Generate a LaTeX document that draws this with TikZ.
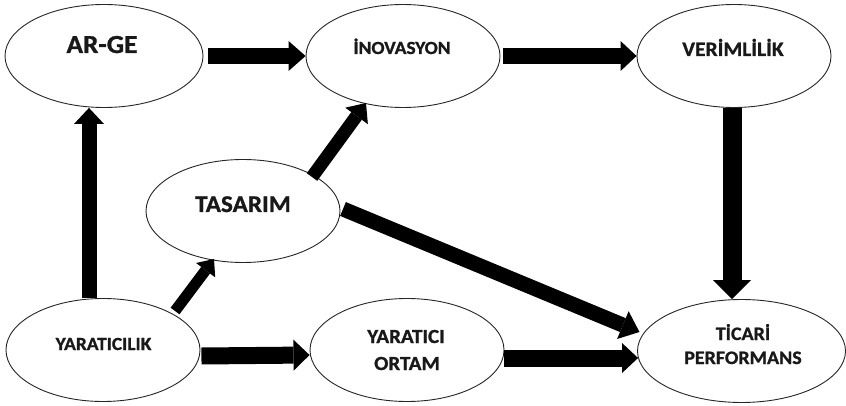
\documentclass[tikz,border=0pt]{standalone}
\usepackage{fontspec}
\setmainfont{Carlito}[FakeStretch=1.05,FakeBold=1]
\usetikzlibrary{shapes.geometric,arrows.meta,calc}
\tikzset{
  oval/.style={ellipse,draw=black!85,line width=0.9pt,inner sep=0pt,minimum width=194pt,minimum height=103pt},
  lbl/.style={anchor=base,inner sep=0pt,font=\bfseries\fontsize{#1}{#1}\selectfont,text=black!90},
  blk/.style n args={3}{line width=#1,-{Triangle[length=#2,width=#3,line width=0pt]}},
}
\begin{document}
\begin{tikzpicture}[x=1pt,y=-1pt]
\useasboundingbox (0,0) rectangle (846,406);
\fill[white] (0,0) rectangle (846,406);
% ellipses
\node[oval,minimum width=198pt] (arge) at (104,56) {};
\node[oval] (inov) at (403,56) {};
\node[oval] (verim) at (734,56) {};
\node[oval] (tas) at (243,211) {};
\node[oval] (yarat) at (103,350) {};
\node[oval] (ortam) at (407,350) {};
\node[oval,minimum width=208pt] (ticari) at (741.5,351) {};
% labels
\node[lbl=26] (targe) at (102,53) {AR-GE};
\node[lbl=18.5] (tinov) at (402,54) {İNOVASYON};
\node[lbl=20.5] (tverim) at (733,56) {VERİMLİLİK};
\node[lbl=24] (ttas) at (243,212) {TASARIM};
\node[lbl=18.5] (tyarat) at (103.5,350) {YARATICILIK};
\node[lbl=20] (tortam1) at (406,343) {YARATICI};
\node[lbl=20] (tortam2) at (407,370) {ORTAM};
\node[lbl=19] (tticari1) at (743,340) {TİCARİ};
\node[lbl=19] (tticari2) at (743,364) {PERFORMANS};
% arrows
\draw[blk={16pt}{17pt}{30pt}] ($(arge.east)+(5,0)$) -- (inov.west);
\draw[blk={16pt}{16pt}{30pt}] ($(inov.east)+(3,0)$) -- (verim.west);
\draw[blk={19pt}{19pt}{38pt}] ($(verim.south)+(-2,0)$) -- ($(verim.south |- ticari.north)+(-2,0)$);
\draw[blk={15pt}{16pt}{30pt}] ($(yarat.north)+(-14,0)$) -- ($(yarat.north |- arge.south)+(-14,0)$);
\draw[blk={11pt}{14pt}{24pt}] ($(yarat.center)+(72,-39)$) -- ($(tas.center)+(-29,48)$);
\draw[blk={13pt}{16pt}{28pt}] ($(tas.center)+(69,-34)$) -- ($(inov.center)+(-37,47)$);
\draw[blk={15pt}{18pt}{30pt}] ($(tas.center)+(100,-2)$) -- ($(ticari.center)+(-102,-19)$);
\draw[blk={17pt}{16pt}{31pt}] ($(yarat.east)+(1,6)$) -- ($(ortam.west)+(0,5)$);
\draw[blk={17pt}{16pt}{30pt}] ($(ortam.east)+(0,8)$) -- ($(ticari.west)+(1,7)$);
\end{tikzpicture}
\end{document}
